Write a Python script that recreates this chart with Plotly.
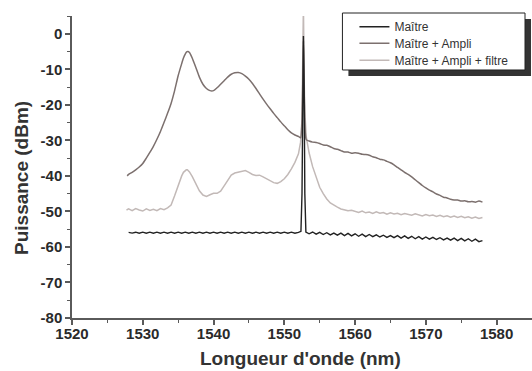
import plotly.graph_objects as go

# ---- Spectra (wavelength in nm, power in dBm) ----
maitre_nm = [
    1528.0, 1528.5, 1529.0, 1529.5, 1530.0, 1530.5, 1531.0, 1531.5, 1532.0, 1532.5,
    1533.0, 1533.5, 1534.0, 1534.5, 1535.0, 1535.5, 1536.0, 1536.5, 1537.0, 1537.5,
    1538.0, 1538.5, 1539.0, 1539.5, 1540.0, 1540.5, 1541.0, 1541.5, 1542.0, 1542.5,
    1543.0, 1543.5, 1544.0, 1544.5, 1545.0, 1545.5, 1546.0, 1546.5, 1547.0, 1547.5,
    1548.0, 1548.5, 1549.0, 1549.5, 1550.0, 1550.5, 1551.0, 1551.5, 1552.0,
    1552.35, 1552.5, 1552.6, 1552.7, 1552.8, 1552.9, 1553.05,
    1553.5, 1554.0, 1554.5, 1555.0, 1555.5, 1556.0, 1556.5, 1557.0, 1557.5, 1558.0,
    1558.5, 1559.0, 1559.5, 1560.0, 1560.5, 1561.0, 1561.5, 1562.0, 1562.5, 1563.0,
    1563.5, 1564.0, 1564.5, 1565.0, 1565.5, 1566.0, 1566.5, 1567.0, 1567.5, 1568.0,
    1568.5, 1569.0, 1569.5, 1570.0, 1570.5, 1571.0, 1571.5, 1572.0, 1572.5, 1573.0,
    1573.5, 1574.0, 1574.5, 1575.0, 1575.5, 1576.0, 1576.5, 1577.0, 1577.5, 1578.0,
]
maitre_dbm = [
    -55.9, -56.1, -55.85, -56.15, -55.85, -56.15, -55.85, -56.15, -55.85, -56.15,
    -55.85, -56.15, -55.85, -56.15, -55.85, -56.15, -55.85, -56.15, -55.85, -56.15,
    -55.85, -56.15, -55.85, -56.15, -55.85, -56.15, -55.85, -56.15, -55.85, -56.15,
    -55.85, -56.15, -55.85, -56.15, -55.85, -56.15, -55.85, -56.15, -55.85, -56.15,
    -55.85, -56.15, -55.85, -56.15, -55.85, -56.15, -55.85, -56.15, -55.9,
    -55.6, -45.0, -14.0, -0.6, -14.0, -45.0, -55.8,
    -56.3, -55.8, -56.4, -55.9, -56.5, -56.0, -56.6, -56.1, -56.7, -56.1,
    -56.8, -56.2, -56.9, -56.3, -57.0, -56.4, -57.1, -56.5, -57.1, -56.6,
    -57.2, -56.7, -57.3, -56.8, -57.4, -56.8, -57.5, -56.9, -57.6, -57.0,
    -57.7, -57.1, -57.8, -57.2, -57.8, -57.3, -57.9, -57.4, -58.0, -57.5,
    -58.1, -57.5, -58.2, -57.6, -58.3, -57.7, -58.4, -57.8, -58.5, -58.2,
]

ampli_nm = [
    1527.8, 1528.0, 1528.5, 1529.0, 1529.5, 1530.0, 1530.5, 1531.0, 1531.5, 1532.0,
    1532.5, 1533.0, 1533.5, 1534.0, 1534.5, 1535.0, 1535.5, 1535.75, 1536.0, 1536.2,
    1536.4, 1536.6, 1536.8, 1537.0, 1537.5,
    1538.0, 1538.5, 1539.0, 1539.5, 1540.0, 1540.5, 1541.0, 1541.5,
    1542.0, 1542.5, 1543.0, 1543.5, 1544.0, 1544.5, 1545.0, 1545.5, 1546.0, 1546.5,
    1547.0, 1547.5, 1548.0, 1548.5, 1549.0, 1549.5, 1550.0, 1550.5, 1551.0, 1551.5,
    1552.0, 1552.3, 1552.55, 1552.65, 1552.7, 1552.75, 1552.85, 1553.1,
    1553.5, 1554.0, 1554.5, 1555.0, 1555.5, 1556.0, 1556.5, 1557.0, 1557.5, 1558.0,
    1558.5, 1559.0, 1559.5, 1560.0, 1560.5, 1561.0, 1561.5, 1562.0, 1562.5, 1563.0,
    1563.5, 1564.0, 1564.5, 1565.0, 1565.5, 1566.0, 1566.5, 1567.0, 1567.5, 1568.0,
    1568.5, 1569.0, 1569.5, 1570.0, 1570.5, 1571.0, 1571.5, 1572.0, 1572.5, 1573.0,
    1573.5, 1574.0, 1574.5, 1575.0, 1575.5, 1576.0, 1576.5, 1577.0, 1577.5, 1578.0,
]
ampli_dbm = [
    -40.0, -39.6, -39.0, -38.3, -37.5, -36.5, -35.0, -33.4, -31.7, -29.7,
    -27.5, -25.0, -22.4, -19.6, -16.0, -11.8, -8.4, -6.8, -5.7, -5.1,
    -5.0, -5.3, -6.0, -6.9, -9.5,
    -12.2, -14.2, -15.4, -16.0, -16.0, -15.2, -14.2, -13.2,
    -12.2, -11.4, -11.0, -10.9, -11.2, -11.9, -12.8, -14.0, -15.4, -16.9,
    -18.4, -19.8, -21.1, -22.4, -23.6, -24.8, -25.9, -27.0, -27.9, -28.5,
    -28.9, -29.3, -20.0, -8.0, -2.0, -8.0, -20.0, -29.8,
    -30.2, -30.5, -30.6, -30.9, -31.3, -31.4, -31.8, -32.3, -32.5, -32.9,
    -33.3, -33.3, -33.6, -33.5, -33.6, -33.9, -34.0, -34.2, -34.6, -34.9,
    -35.3, -35.5, -35.9, -36.3, -36.9, -37.6, -38.3, -39.0, -39.6, -40.3,
    -41.1, -41.9, -42.7, -43.4, -44.0, -44.5, -45.1, -45.5, -46.0, -46.2,
    -46.6, -46.8, -46.8, -47.1, -47.0, -47.3, -47.2, -47.4, -47.1, -47.4,
]

filtre_nm = [
    1527.7, 1528.0, 1528.5, 1529.0, 1529.5, 1530.0, 1530.5, 1531.0, 1531.5, 1532.0,
    1532.5, 1533.0, 1533.5, 1534.0, 1534.5, 1535.0, 1535.5, 1535.75, 1536.0, 1536.15,
    1536.3, 1536.45, 1536.6,
    1537.0, 1537.5, 1538.0, 1538.5, 1539.0, 1539.5, 1540.0, 1540.5, 1541.0, 1541.5,
    1542.0, 1542.5, 1543.0, 1543.5, 1544.0, 1544.5, 1545.0, 1545.5, 1546.0, 1546.5,
    1547.0, 1547.5, 1548.0, 1548.5, 1549.0, 1549.5, 1550.0, 1550.5, 1551.0, 1551.5,
    1552.0, 1552.3, 1552.5, 1552.6, 1552.7, 1552.8, 1552.9, 1553.1,
    1553.5, 1554.0, 1554.5, 1555.0, 1555.5, 1556.0, 1556.5, 1557.0, 1557.5, 1558.0,
    1558.5, 1559.0, 1559.5, 1560.0, 1560.5, 1561.0, 1561.5, 1562.0, 1562.5, 1563.0,
    1563.5, 1564.0, 1564.5, 1565.0, 1565.5, 1566.0, 1566.5, 1567.0, 1567.5, 1568.0,
    1568.5, 1569.0, 1569.5, 1570.0, 1570.5, 1571.0, 1571.5, 1572.0, 1572.5, 1573.0,
    1573.5, 1574.0, 1574.5, 1575.0, 1575.5, 1576.0, 1576.5, 1577.0, 1577.5, 1578.0,
]
filtre_dbm = [
    -49.6, -49.3, -49.8, -49.2, -49.6, -49.9, -49.3, -49.7, -49.4, -49.8,
    -49.2, -49.5, -49.0, -48.2, -45.6, -42.5, -40.0, -39.0, -38.5, -38.3,
    -38.3, -38.5, -38.9,
    -40.2, -42.4, -44.2, -45.4, -45.8, -45.3, -44.9, -44.9, -44.3, -42.8,
    -41.2, -39.8, -39.2, -39.0, -38.6, -38.5, -39.0, -39.6, -39.9, -39.8,
    -40.3, -40.9, -41.4, -41.9, -42.1, -41.6, -40.8, -39.6, -38.0, -36.2,
    -33.8, -30.5, -24.0, -12.0, 8.0, -12.0, -22.0, -29.0,
    -33.5, -37.4, -40.5, -43.2, -45.0, -46.5, -47.6, -48.3, -48.8, -49.3,
    -49.5, -49.8, -49.7, -50.1, -50.3, -49.9, -50.4, -50.2, -50.6, -50.1,
    -50.5, -50.3, -50.8, -50.4, -50.7, -50.5, -50.9, -50.6, -50.8, -51.1,
    -50.7, -51.0, -51.3, -50.9, -51.2, -51.0, -51.4, -51.1, -51.5, -51.2,
    -51.6, -51.3, -51.7, -51.4, -51.8, -51.5, -51.9, -51.6, -52.0, -51.7,
]

x_ticks = [1520, 1530, 1540, 1550, 1560, 1570, 1580]
x_minor = [1525, 1535, 1545, 1555, 1565, 1575]
y_ticks = [0, -10, -20, -30, -40, -50, -60, -70, -80]
y_tick_text = ["0", "-10", "-20", "-30", "-40", "-50", "-60", "-70", "-80"]
y_minor = [5, -5, -15, -25, -35, -45, -55, -65, -75]

FONT = "Liberation Sans, Arial, Helvetica, sans-serif"
AXIS_COL = "#5a5a5a"

fig = go.Figure()
fig.add_trace(go.Scatter(x=filtre_nm, y=filtre_dbm, mode="lines",
                         name="Maître + Ampli + filtre", legend="legend3",
                         line=dict(color="#c2b9b7", width=1.5)))
fig.add_trace(go.Scatter(x=ampli_nm, y=ampli_dbm, mode="lines",
                         name="Maître + Ampli", legend="legend2",
                         line=dict(color="#7c706e", width=1.5, shape="spline",
                                   smoothing=0.6)))
fig.add_trace(go.Scatter(x=maitre_nm, y=maitre_dbm, mode="lines",
                         name="Maître", legend="legend",
                         line=dict(color="#222222", width=1.4)))

axis_common = dict(
    showline=True, linecolor=AXIS_COL, linewidth=1.5,
    ticks="outside", ticklen=5, tickwidth=1.5, tickcolor=AXIS_COL,
    showgrid=False, zeroline=False, mirror=False,
    tickfont=dict(family=FONT, size=15, color="#2a2a2a", weight="bold"),
)

fig.update_xaxes(range=[1520, 1585], tickmode="array", tickvals=x_ticks,
                 ticklabelstandoff=-4,
                 minor=dict(tickmode="array", tickvals=x_minor, ticks="outside",
                            ticklen=3, tickwidth=1.2, tickcolor=AXIS_COL),
                 **axis_common)
fig.update_yaxes(range=[-80, 5], tickmode="array", tickvals=y_ticks,
                 ticktext=y_tick_text,
                 minor=dict(tickmode="array", tickvals=y_minor, ticks="outside",
                            ticklen=3, tickwidth=1.2, tickcolor=AXIS_COL),
                 **axis_common)

# legend frame with drop shadow, drawn as paper-space rectangles
shapes = [
    dict(type="rect", xref="paper", yref="paper", x0=0.6009, x1=0.9978,
         y0=0.8013, y1=0.990, fillcolor="#333333", line=dict(width=0), layer="above"),
    dict(type="rect", xref="paper", yref="paper", x0=0.5879, x1=0.9848,
         y0=0.8212, y1=1.0099, fillcolor="white",
         line=dict(color="#222222", width=1), layer="above"),
]

annotations = [
    dict(text="Longueur d'onde (nm)", xref="paper", yref="paper",
         x=0.497, y=0, yshift=-40, xanchor="center", yanchor="middle",
         showarrow=False,
         font=dict(family=FONT, size=19, color="#333333", weight="bold")),
    dict(text="Puissance (dBm)", xref="paper", yref="paper",
         x=0, xshift=-50, y=0.4636, xanchor="center", yanchor="middle",
         textangle=-90, showarrow=False,
         font=dict(family=FONT, size=19, color="#333333", weight="bold")),
]

legend_common = dict(xanchor="left", yanchor="middle", bgcolor="rgba(0,0,0,0)",
                     borderwidth=0, itemwidth=30,
                     font=dict(family=FONT, size=12, color="#333333"))

fig.update_layout(
    width=532, height=371,
    margin=dict(l=72, r=0, t=16, b=53),
    paper_bgcolor="white", plot_bgcolor="white",
    shapes=shapes, annotations=annotations,
    showlegend=True,
    legend=dict(x=0.614, y=0.9646, **legend_common),
    legend2=dict(x=0.614, y=0.9096, **legend_common),
    legend3=dict(x=0.614, y=0.8533, **legend_common),
)

fig.write_html("out.html")
